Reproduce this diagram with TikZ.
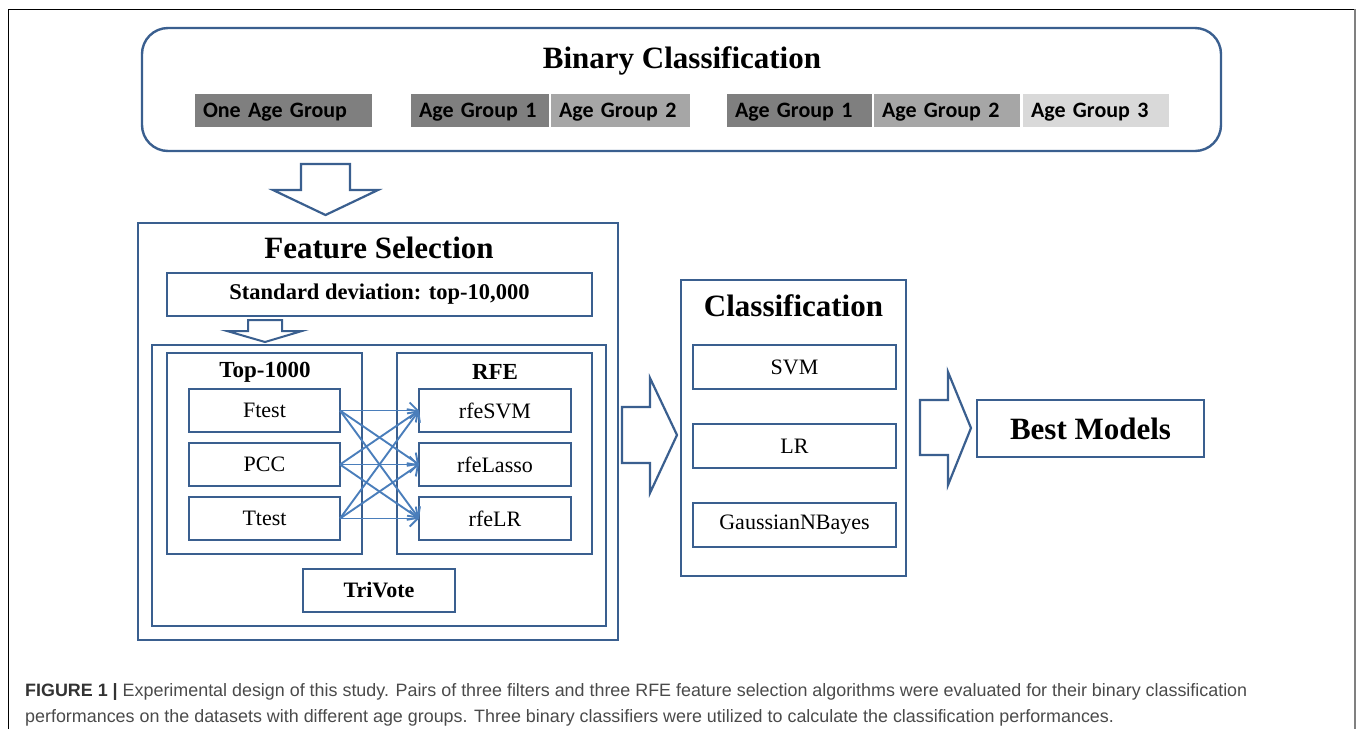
\documentclass[tikz,border=0pt]{standalone}
\usepackage{fontspec}
\setmainfont{Liberation Serif}
\newfontfamily\agefont{Carlito}
\newfontfamily\capfont{Liberation Sans}
\usetikzlibrary{arrows.meta}
\definecolor{bc}{HTML}{3A5F8F}
\definecolor{lc}{HTML}{4A7EBB}
\definecolor{g1}{HTML}{7F7F7F}
\definecolor{g2}{HTML}{A6A6A6}
\definecolor{g3}{HTML}{D9D9D9}
\definecolor{captxt}{HTML}{4A4A4A}
\tikzset{
  bbox/.style={draw=bc, line width=2.4pt, inner sep=0pt, outer sep=0pt},
  sbox/.style={draw=bc, line width=2.2pt, inner sep=0pt, outer sep=0pt, font=\fontsize{22}{22}\selectfont},
  agebox/.style={fill=#1, draw=white, line width=0.8pt, inner sep=0pt, outer sep=0pt, minimum height=34pt, font=\agefont\bfseries\fontsize{22}{22}\selectfont, align=left, text height=14pt, text depth=0pt},
  bigtitle/.style={font=\bfseries\fontsize{31}{31}\selectfont, inner sep=0pt},
  midtitle/.style={font=\bfseries\fontsize{23}{23}\selectfont, inner sep=0pt},
  blockarrow/.style={draw=bc, line width=2.2pt, fill=white, line join=miter},
  cross/.style={draw=lc, line width=1.9pt, -{Straight Barb[length=8pt,width=16pt,line width=1.9pt]}},
}
\begin{document}
\begin{tikzpicture}[x=1pt,y=-1pt]
\useasboundingbox (0,0) rectangle (1357,729);
% outer frame
\draw[black, line width=1pt] (8,729) -- (8,9) -- (1355,9);
\draw[gray, line width=1.5pt] (1355,9) -- (1355,729);

% binary classification
\node[bbox, rounded corners=26pt, minimum width=1079pt, minimum height=123pt] (bin) at (681.5,89.5) {};
\node[bigtitle] (bintitle) at (682,61) {Binary Classification};
\node[agebox=g1, minimum width=178pt, text width=160pt] (one) at (283,110) {One Age Group};
\node[agebox=g1, minimum width=139pt, text width=121pt] (a21) at (479.5,110) {Age Group 1};
\node[agebox=g2, minimum width=140pt, text width=122pt] (a22) at (620,110) {Age Group 2};
\node[agebox=g1, minimum width=146pt, text width=128pt] (a31) at (799,110) {Age Group 1};
\node[agebox=g2, minimum width=147pt, text width=129pt] (a32) at (946.5,110) {Age Group 2};
\node[agebox=g3, minimum width=147pt, text width=129pt] (a33) at (1095.5,110) {Age Group 3};

% big down arrow
\draw[blockarrow] (301,164) -- (350,164) -- (350,190) -- (378,190) -- (325.5,215) -- (273,190) -- (301,190) -- cycle;

% feature selection
\node[bbox, minimum width=480pt, minimum height=417pt] (fs) at (378,431.5) {};
\node[bigtitle] (fstitle) at (379,248) {Feature Selection};
\node[sbox, minimum width=425pt, minimum height=43pt, font=\bfseries\fontsize{22.5}{22.5}\selectfont] (std) at (379.5,294.5) {Standard deviation: top-10,000};
\draw[blockarrow, line width=2pt] (248,320) -- (282,320) -- (282,331) -- (302,331) -- (265,342) -- (227,331) -- (248,331) -- cycle;
\node[sbox, minimum width=454pt, minimum height=281pt] (inner) at (379,485.5) {};
\node[sbox, minimum width=195pt, minimum height=201pt] (top) at (264.5,453.5) {};
\node[midtitle] (toptitle) at (265,372) {Top-1000};
\node[sbox, minimum width=195pt, minimum height=201pt] (rfe) at (494.5,453.5) {};
\node[midtitle] (rfetitle) at (495,372) {RFE};
\node[sbox, minimum width=151pt, minimum height=43pt] (ftest) at (264.5,410.5) {Ftest};
\node[sbox, minimum width=151pt, minimum height=43pt] (pcc) at (264.5,464.5) {PCC};
\node[sbox, minimum width=151pt, minimum height=43pt] (ttest) at (264.5,518.5) {Ttest};
\node[sbox, minimum width=152pt, minimum height=43pt] (rsvm) at (495,410.5) {rfeSVM};
\node[sbox, minimum width=152pt, minimum height=43pt] (rlasso) at (495,464.5) {rfeLasso};
\node[sbox, minimum width=152pt, minimum height=43pt] (rlr) at (495,518.5) {rfeLR};
\node[sbox, minimum width=152pt, minimum height=43pt, font=\bfseries\fontsize{22}{22}\selectfont] (tri) at (379,590.5) {TriVote};
\foreach \s in {ftest,pcc,ttest}{
  \foreach \t in {rsvm,rlasso,rlr}{
    \draw[cross] (\s.east) -- (\t.west);
  }
}

% arrow to classification
\draw[blockarrow] (622,407) -- (650,407) -- (650,378) -- (677,435) -- (650,493) -- (650,463) -- (622,463) -- cycle;

% classification
\node[bbox, minimum width=225pt, minimum height=296pt] (cls) at (793.5,428) {};
\node[bigtitle] (clstitle) at (793.5,306) {Classification};
\node[sbox, minimum width=203pt, minimum height=44pt] (svm) at (794.5,367) {SVM};
\node[sbox, minimum width=203pt, minimum height=44pt] (lr) at (794.5,446) {LR};
\node[sbox, minimum width=203pt, minimum height=44pt] (gnb) at (794.5,525) {GaussianNBayes};

% arrow to best models
\draw[blockarrow] (920,400) -- (948,400) -- (948,372) -- (971,428) -- (948,485) -- (948,455) -- (920,455) -- cycle;

% best models
\node[bbox, minimum width=227pt, minimum height=57pt, font=\bfseries\fontsize{31}{31}\selectfont] (best) at (1090.5,428.5) {Best Models};

% caption
\node[anchor=base west, inner sep=0pt, font=\capfont\fontsize{17.9}{17.9}\selectfont, text=captxt] (cap1) at (25,696) {\textbf{\color{black!80}FIGURE 1 |} Experimental design of this study. Pairs of three filters and three RFE feature selection algorithms were evaluated for their binary classification};
\node[anchor=base west, inner sep=0pt, font=\capfont\fontsize{17.9}{17.9}\selectfont, text=captxt] (cap2) at (25,722) {performances on the datasets with different age groups. Three binary classifiers were utilized to calculate the classification performances.};
\end{tikzpicture}
\end{document}
